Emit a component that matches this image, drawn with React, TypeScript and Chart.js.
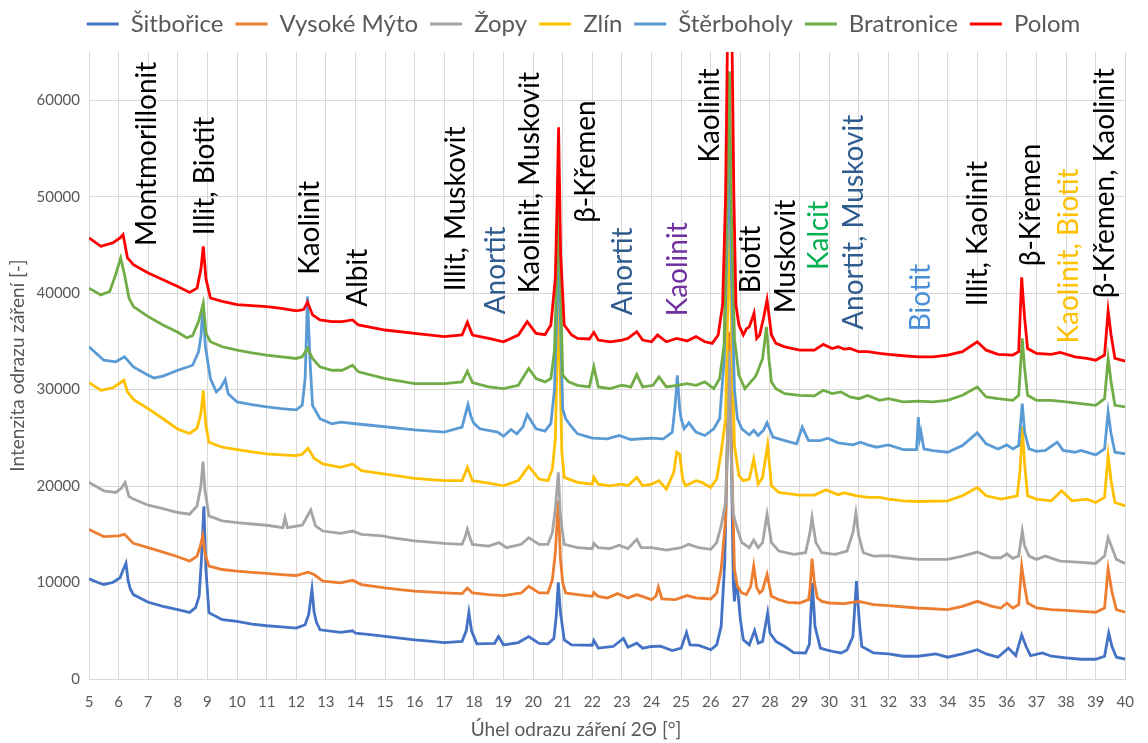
import React, { useEffect, useRef } from "react";
import { Chart, registerables } from "chart.js";

Chart.register(...registerables);

type Pt = [number, number];

// Diffraction patterns: [2θ (°), intensity]
const sitboriceData: Pt[] = [[5,10400],[5.3,10000],[5.5,9800],[5.8,10000],[6.05,10500],[6.15,11300],[6.25,12000],[6.32,10200],[6.4,9300],[6.5,8750],[7,7950],[7.5,7530],[8,7190],[8.4,6900],[8.6,7400],[8.72,8600],[8.8,12500],[8.88,17900],[8.95,11350],[9.05,6870],[9.5,6150],[10,5970],[10.5,5700],[11,5520],[11.5,5400],[12,5280],[12.3,5620],[12.42,6700],[12.53,9300],[12.6,7000],[12.68,5900],[12.8,5100],[13.5,4830],[13.9,5000],[14,4760],[14.5,4600],[15,4410],[15.5,4230],[16,4060],[16.5,3920],[17,3780],[17.6,3900],[17.74,5000],[17.83,6900],[17.92,5000],[18.1,3650],[18.7,3700],[18.83,4400],[19,3540],[19.5,3780],[19.85,4400],[20.2,3700],[20.5,3650],[20.7,4200],[20.78,6500],[20.85,10030],[20.92,7000],[21.05,4060],[21.3,3540],[22,3500],[22.05,4000],[22.2,3200],[22.7,3370],[23.05,4200],[23.2,3300],[23.5,3720],[23.7,3200],[24,3370],[24.3,3400],[24.7,2950],[25,3200],[25.18,4830],[25.3,3540],[25.6,3480],[26,3030],[26.2,3540],[26.35,5450],[26.47,12000],[26.56,24000],[26.63,33500],[26.7,22000],[26.76,10000],[26.8,8050],[26.85,9970],[26.9,9500],[27,6150],[27.1,4060],[27.3,3540],[27.48,5030],[27.6,3720],[27.75,3900],[27.92,6840],[28,4760],[28.2,3900],[28.5,3370],[28.8,2740],[29.2,2700],[29.33,3600],[29.43,9970],[29.52,5450],[29.7,3200],[29.9,3030],[30.2,2800],[30.4,2700],[30.6,3000],[30.8,4400],[30.92,10140],[31.02,5800],[31.1,3370],[31.3,3030],[31.5,2700],[32,2600],[32.5,2360],[33,2360],[33.6,2600],[34,2260],[34.5,2600],[35,3030],[35.3,2600],[35.7,2260],[36.05,3200],[36.3,2430],[36.5,4580],[36.65,3370],[36.8,2430],[37.2,2700],[37.5,2360],[38,2190],[38.5,2050],[39,2050],[39.3,2360],[39.44,4760],[39.55,3370],[39.7,2260],[40,2050]];

const vysokeMytoData: Pt[] = [[5,15500],[5.5,14760],[6,14830],[6.2,15000],[6.5,14060],[7,13610],[7.5,13160],[8,12670],[8.4,12220],[8.65,12740],[8.76,13800],[8.84,14830],[8.92,13000],[9.05,11700],[9.5,11350],[10,11180],[10.5,11050],[11,10940],[11.5,10830],[12,10730],[12.4,11070],[12.6,10830],[12.9,10140],[13.5,9970],[13.9,10250],[14.2,9790],[15,9440],[15.5,9270],[16,9100],[17,8920],[17.6,8850],[17.78,9440],[17.95,8920],[18.5,8750],[19,8650],[19.6,8920],[19.85,9620],[20.2,8920],[20.5,8920],[20.65,10300],[20.75,13090],[20.85,18500],[20.92,12500],[21,9970],[21.1,8920],[21.5,8750],[22,8570],[22.05,8960],[22.2,8570],[22.5,8400],[22.85,8850],[23.2,8400],[23.5,8750],[24,8230],[24.15,8600],[24.23,9550],[24.35,8300],[24.8,8230],[25.2,8650],[25.5,8400],[26,8300],[26.2,8920],[26.35,11350],[26.5,16560],[26.58,28000],[26.63,36000],[26.7,24000],[26.8,11350],[26.9,9620],[27.05,8920],[27.2,8750],[27.35,9600],[27.45,11700],[27.55,9500],[27.65,8920],[27.75,9200],[27.9,10830],[28.05,8570],[28.3,8230],[28.6,7950],[29,7880],[29.3,8230],[29.35,9300],[29.42,12470],[29.5,10000],[29.6,8400],[29.75,8050],[30,7880],[30.5,7820],[31,8050],[31.5,7710],[32,7600],[33,7360],[34,7190],[34.5,7530],[35,8050],[35.5,7530],[35.8,7360],[36,7880],[36.2,7360],[36.4,7710],[36.5,11700],[36.6,9620],[36.7,7880],[37,7360],[37.5,7190],[38,7120],[38.5,7020],[39,6920],[39.3,7360],[39.42,11420],[39.55,9020],[39.7,7190],[40,6920]];

const zopyData: Pt[] = [[5,20380],[5.5,19510],[5.9,19340],[6.1,19800],[6.22,20380],[6.35,18920],[6.5,18650],[7,18020],[7.5,17670],[8,17260],[8.4,17080],[8.65,17950],[8.78,20030],[8.85,22530],[8.92,19500],[9.05,16910],[9.5,16390],[10,16210],[10.5,16070],[11,15940],[11.55,15700],[11.62,16740],[11.7,15700],[12.2,15940],[12.35,16740],[12.49,17530],[12.65,15870],[12.9,15340],[13.5,15100],[13.9,15340],[14.2,15000],[14.9,14830],[15.2,14650],[16,14310],[17,14060],[17.6,13960],[17.7,14700],[17.78,15520],[17.88,14500],[17.95,13960],[18.5,13780],[18.85,14140],[19.1,13610],[19.6,13960],[19.85,14650],[20.2,13960],[20.5,13960],[20.65,15170],[20.75,17600],[20.85,21430],[20.92,17000],[20.98,15520],[21.05,13960],[21.5,13610],[22,13510],[22.05,14060],[22.2,13610],[22.6,13510],[22.9,13860],[23.2,13510],[23.5,14480],[23.65,13610],[24,13610],[24.5,13370],[25,13610],[25.25,13960],[25.6,13610],[26,13440],[26.2,14140],[26.35,15870],[26.5,18300],[26.57,26000],[26.63,34000],[26.68,24000],[26.75,17260],[26.9,15520],[27.05,14140],[27.3,13610],[27.45,14410],[27.6,13610],[27.75,14140],[27.9,17080],[28.05,14140],[28.3,13260],[28.8,12920],[29.2,13090],[29.35,15170],[29.42,16740],[29.55,14140],[29.75,13090],[30.2,12920],[30.6,13260],[30.8,15170],[30.9,17190],[31,14800],[31.15,13090],[31.5,12740],[32,12800],[32.5,12570],[33,12400],[34,12400],[34.5,12740],[35,13160],[35.5,12570],[35.8,12570],[36,12980],[36.2,12500],[36.4,12740],[36.52,15340],[36.6,13780],[36.75,12740],[37,12400],[37.3,12740],[37.8,12220],[38.5,12100],[39,11980],[39.3,12740],[39.42,14650],[39.55,13610],[39.7,12400],[40,11980]];

const zlinData: Pt[] = [[5,30730],[5.4,29930],[5.8,30170],[6.18,30970],[6.3,29760],[6.5,28990],[7,28020],[7.5,26980],[8,25900],[8.4,25450],[8.65,26000],[8.78,27500],[8.86,29900],[8.94,26500],[9.05,24550],[9.5,24030],[10,23780],[10.5,23540],[11,23330],[11.5,23240],[12,23160],[12.2,23300],[12.4,23920],[12.6,22880],[12.9,22290],[13.5,21950],[13.9,22290],[14.2,21600],[15,21250],[16,20800],[17,20560],[17.6,20560],[17.78,21950],[17.95,20560],[18.5,20310],[19,20030],[19.5,20560],[19.85,22050],[20.2,20730],[20.5,20560],[20.65,21770],[20.75,24900],[20.8,32000],[20.86,42000],[20.92,30000],[20.97,23510],[21.05,20900],[21.5,20380],[22,20200],[22.05,20900],[22.2,20200],[22.6,20030],[23,20200],[23.2,20030],[23.5,20900],[23.7,20030],[24,20200],[24.25,20560],[24.5,19690],[24.75,21430],[24.85,23510],[24.95,23300],[25.05,20730],[25.15,20030],[25.5,20560],[25.7,20380],[26,19860],[26.2,20730],[26.35,23510],[26.5,26980],[26.57,38000],[26.63,48000],[26.7,36000],[26.8,24200],[26.95,21080],[27.1,20560],[27.3,20730],[27.45,22810],[27.6,20200],[27.75,20900],[27.92,24270],[28.05,20030],[28.3,19340],[29,19060],[29.5,19060],[29.9,19610],[30.3,19100],[30.5,19300],[30.9,19000],[31.3,18820],[31.7,18820],[32,18650],[32.5,18470],[33,18400],[34,18470],[34.5,18990],[35,19860],[35.3,18990],[35.8,18650],[36.1,18820],[36.35,18990],[36.45,21770],[36.52,26200],[36.6,22290],[36.7,18990],[37,18650],[37.5,18470],[37.85,19510],[38.2,18470],[38.7,18650],[39,18300],[39.3,18820],[39.42,23160],[39.52,20560],[39.65,18300],[40,17950]];

const sterboholyData: Pt[] = [[5,34440],[5.5,33050],[5.9,32880],[6.2,33400],[6.5,32360],[7,31490],[7.2,31210],[7.5,31400],[8,32010],[8.5,32530],[8.7,33920],[8.78,35500],[8.85,38610],[8.93,34500],[9.1,31150],[9.3,29760],[9.45,30200],[9.6,31040],[9.7,29580],[10,28720],[10.5,28440],[11,28200],[11.5,28020],[12,27900],[12.2,28370],[12.3,31150],[12.38,39650],[12.46,33230],[12.55,28370],[12.8,26980],[13.2,26460],[13.5,26630],[14,26460],[15,26150],[16,25830],[17,25590],[17.6,26110],[17.7,27300],[17.8,28440],[17.9,27200],[18,26500],[18.2,25940],[18.8,25590],[19,25170],[19.25,25870],[19.45,25420],[19.65,26110],[19.8,27400],[20.1,25940],[20.4,25700],[20.6,26500],[20.72,30000],[20.8,38000],[20.86,46000],[20.93,36000],[21,28000],[21.1,26980],[21.26,26280],[21.5,25420],[22,24970],[22.5,24900],[22.9,25240],[23.3,24830],[24,24970],[24.4,24900],[24.7,25590],[24.8,28500],[24.87,31490],[24.95,28000],[25,26980],[25.1,25940],[25.26,26560],[25.5,25590],[25.8,25240],[26.1,25940],[26.3,26980],[26.45,33000],[26.55,45000],[26.62,55000],[26.7,42000],[26.8,30000],[26.9,27000],[27.05,25940],[27.3,25300],[27.45,25770],[27.6,25240],[27.78,25800],[27.9,26560],[28.1,25070],[28.5,24720],[28.9,24380],[29.09,26110],[29.3,24720],[29.7,24720],[29.95,24970],[30.3,24480],[30.8,24270],[31.05,24550],[31.3,24270],[31.6,24030],[32,24270],[32.5,23780],[32.95,23780],[33.01,27150],[33.06,25000],[33.1,25590],[33.2,23850],[33.5,23680],[34,23510],[34.5,24200],[35,25520],[35.3,24380],[35.7,23850],[36,24270],[36.2,23850],[36.4,24200],[36.52,28540],[36.6,25590],[36.75,23850],[37,23600],[37.3,23700],[37.7,24550],[37.9,23700],[38.3,23510],[38.5,23700],[39,23230],[39.3,23850],[39.42,27670],[39.52,25420],[39.65,23510],[40,23330]];

const bratroniceData: Pt[] = [[5,40520],[5.4,39820],[5.7,40170],[5.9,41910],[6.07,43650],[6.2,41910],[6.35,39500],[6.5,38610],[7,37570],[7.5,36700],[8,35940],[8.3,35380],[8.5,35600],[8.7,37050],[8.86,38960],[8.95,35830],[9.1,34960],[9.5,34440],[10,34090],[10.5,33820],[11,33580],[11.5,33400],[12,33230],[12.2,33400],[12.38,34270],[12.55,33230],[12.8,32360],[13.2,32010],[13.55,32010],[13.9,32530],[14.1,31840],[15,31150],[16,30630],[17,30630],[17.6,30800],[17.78,31910],[17.95,30730],[18.5,30280],[19,30100],[19.5,30450],[19.85,32190],[20.1,31150],[20.4,30800],[20.6,31150],[20.72,34000],[20.8,42000],[20.86,52000],[20.93,40000],[21,31490],[21.2,30800],[21.5,30450],[21.9,30280],[22.05,32360],[22.2,30280],[22.6,30100],[23,30450],[23.3,30280],[23.5,31560],[23.7,30280],[24.05,30450],[24.25,31320],[24.5,30280],[24.85,30450],[25.2,30620],[25.5,30450],[25.8,30800],[26.1,30100],[26.3,31150],[26.45,34620],[26.55,50000],[26.63,63000],[26.7,48000],[26.8,35310],[26.95,31490],[27.15,30100],[27.35,30800],[27.5,31320],[27.6,32010],[27.75,33230],[27.88,36500],[27.97,33000],[28.05,30800],[28.2,30100],[28.5,29580],[29,29410],[29.5,29350],[29.8,29930],[30.1,29580],[30.4,29760],[30.7,29240],[31,29060],[31.3,29400],[31.7,28890],[32,29060],[32.5,28720],[33,28800],[33.5,28720],[34,28890],[34.5,29410],[35,30280],[35.3,29240],[35.7,29060],[36.2,28890],[36.4,29410],[36.52,35310],[36.6,32190],[36.7,29410],[37,28890],[37.5,28890],[38,28720],[38.5,28540],[39,28370],[39.3,29060],[39.42,33230],[39.52,30800],[39.65,28370],[40,28200]];

const polomData: Pt[] = [[5,45730],[5.4,44860],[5.8,45210],[6.05,45730],[6.15,46080],[6.3,43650],[6.5,42960],[7,42090],[7.5,41390],[8,40700],[8.4,40080],[8.65,40520],[8.78,42500],[8.86,44860],[8.95,41500],[9.1,39500],[9.5,39150],[10,38800],[10.5,38700],[11,38610],[11.5,38430],[12,38160],[12.25,38300],[12.38,39060],[12.55,37740],[12.8,37220],[13.2,37050],[13.55,37050],[13.9,37220],[14.1,36700],[15,36180],[16,35830],[17,35490],[17.6,35660],[17.78,36980],[17.95,35660],[18.5,35310],[19,34960],[19.5,35660],[19.8,37050],[20.1,35830],[20.4,35700],[20.6,36700],[20.75,41560],[20.8,48000],[20.86,57200],[20.93,44000],[20.98,41000],[21.05,36700],[21.3,35660],[21.5,35310],[21.9,35250],[22.05,35940],[22.2,35140],[22.6,34960],[23,35140],[23.2,35310],[23.5,36010],[23.7,35140],[24,34960],[24.2,35660],[24.5,34960],[24.85,35310],[25.2,35050],[25.5,35490],[25.8,34960],[26.05,34790],[26.25,35660],[26.4,38780],[26.5,50000],[26.64,86000],[26.78,50000],[26.85,38780],[26.95,36700],[27.1,35660],[27.2,36300],[27.3,36500],[27.46,37920],[27.55,35310],[27.65,35660],[27.78,37400],[27.9,39300],[28.05,35660],[28.2,34790],[28.5,34440],[29,34090],[29.5,34090],[29.8,34690],[30.1,34260],[30.3,34440],[30.5,34200],[30.7,34260],[31,33930],[31.3,33930],[31.7,33750],[32,33650],[32.5,33510],[33,33400],[33.5,33400],[34,33580],[34.5,33930],[35,34960],[35.3,34090],[35.7,33650],[36.2,33580],[36.4,33930],[36.5,41640],[36.6,37400],[36.7,34260],[37,33750],[37.5,33650],[37.8,33860],[38.3,33400],[38.7,33230],[39,33050],[39.3,33580],[39.42,38160],[39.52,35660],[39.65,33230],[40,32950]];

const seriesNames = ["Šitbořice", "Vysoké Mýto", "Žopy", "Zlín", "Štěrboholy", "Bratronice", "Polom"];
const seriesColors = ["#4472C4", "#ED7D31", "#A5A5A5", "#FFC000", "#5B9BD5", "#70AD47", "#FF0000"];
const seriesData = [sitboriceData, vysokeMytoData, zopyData, zlinData, sterboholyData, bratroniceData, polomData];

const yTicks = [0, 10000, 20000, 30000, 40000, 50000, 60000];

// Mineral identifications: text, 2θ position, intensity at the start of the text, colour
const labelTexts = ["Montmorillonit", "Illit, Biotit", "Kaolinit", "Albit", "Illit, Muskovit", "Anortit", "Kaolinit, Muskovit", "β-Křemen", "Anortit", "Kaolinit", "Kaolinit", "Biotit", "Muskovit", "Kalcit", "Anortit, Muskovit", "Biotit", "Illit, Kaolinit", "β-Křemen", "Kaolinit, Biotit", "β-Křemen, Kaolinit"];
const labelAngles = [6.95, 8.92, 12.45, 14.1, 17.4, 18.75, 19.9, 21.8, 23.05, 24.9, 25.97, 27.37, 28.53, 29.65, 30.85, 33.1, 35.03, 36.8, 38.1, 39.33];
const labelBases = [44900, 46000, 41900, 38600, 40210, 37810, 40000, 47290, 37710, 37600, 53540, 40000, 37920, 42400, 36200, 36040, 38650, 42800, 34790, 39480];
const labelColors = ["#000000", "#000000", "#000000", "#000000", "#000000", "#2F5C8F", "#000000", "#000000", "#2F5C8F", "#7030A0", "#000000", "#000000", "#000000", "#00B050", "#2F5C8F", "#4A8FD6", "#000000", "#000000", "#FFC000", "#000000"];

const xTitle = "Úhel odrazu záření 2Θ [°]";
const yTitle = "Intenzita odrazu záření [-]";

const FONT = "Lato, 'Open Sans', sans-serif";
const AXIS_GREY = "#595959";

// Rotated mineral names above the peaks
const peakLabels = {
  id: "peakLabels",
  afterDatasetsDraw(chart: any) {
    const { ctx, scales } = chart;
    const xs = scales.x;
    const ys = scales.y;
    ctx.save();
    ctx.font = `28px ${FONT}`;
    ctx.textAlign = "left";
    ctx.textBaseline = "middle";
    labelTexts.forEach((text, i) => {
      const px = xs.getPixelForValue(labelAngles[i]);
      const py = ys.getPixelForValue(labelBases[i]);
      ctx.save();
      ctx.translate(px, py);
      ctx.rotate(-Math.PI / 2);
      ctx.fillStyle = labelColors[i];
      ctx.fillText(text, 0, 0);
      ctx.restore();
    });
    ctx.restore();
  },
};

// Axis titles, placed relative to the plot area
const axisTitles = {
  id: "axisTitles",
  afterDraw(chart: any) {
    const { ctx, chartArea } = chart;
    ctx.save();
    ctx.fillStyle = AXIS_GREY;
    ctx.textAlign = "center";
    ctx.textBaseline = "middle";
    ctx.font = `19px ${FONT}`;
    ctx.fillText(xTitle, chartArea.left + (chartArea.right - chartArea.left) * 0.47, chartArea.bottom + 51);
    ctx.translate(18, (chartArea.top + chartArea.bottom) / 2);
    ctx.rotate(-Math.PI / 2);
    ctx.fillText(yTitle, 0, 0);
    ctx.restore();
  },
};

// Moves the legend row up and to the right after layout
const legendNudge = {
  id: "legendNudge",
  afterLayout(chart: any) {
    const lg = chart.legend;
    if (!lg) return;
    lg.left += 14;
    lg.right += 14;
    lg.top -= 6;
    lg.bottom -= 6;
  },
};

export default function App() {
  const canvasRef = useRef<HTMLCanvasElement | null>(null);

  useEffect(() => {
    if (!canvasRef.current) return;
    const chart = new Chart(canvasRef.current, {
      type: "line",
      data: {
        datasets: seriesNames.map((name, i) => ({
          label: name,
          data: seriesData[i] as any,
          borderColor: seriesColors[i],
          backgroundColor: seriesColors[i],
          borderWidth: 2.8,
          pointRadius: 0,
          tension: 0,
          order: seriesNames.length - i,
        })),
      },
      options: {
        responsive: false,
        animation: false,
        devicePixelRatio: 1,
        layout: { padding: { left: 0, right: 9, top: 6, bottom: 0 } },
        plugins: {
          legend: {
            position: "top",
            labels: {
              font: { family: FONT, size: 24 },
              color: AXIS_GREY,
              boxWidth: 32,
              boxHeight: 3,
              padding: 12,
              sort: (a: any, b: any) => a.datasetIndex - b.datasetIndex,
              generateLabels: (chart: any) =>
                Chart.defaults.plugins.legend.labels
                  .generateLabels(chart)
                  .map((l: any) => ({ ...l, lineWidth: 0, fillStyle: seriesColors[l.datasetIndex] })),
            },
          },
          tooltip: { enabled: false },
        },
        scales: {
          x: {
            type: "linear",
            min: 5,
            max: 40,
            ticks: { stepSize: 1, color: AXIS_GREY, font: { family: FONT, size: 15 }, padding: 14, maxRotation: 0 },
            grid: { color: "#d9d9d9", drawTicks: false },
            border: { color: "#d9d9d9" },
            afterFit: (s: any) => { s.height = 64; },
          },
          y: {
            type: "linear",
            min: 0,
            max: 65000,
            ticks: { color: AXIS_GREY, font: { family: FONT, size: 15 }, padding: 9, callback: (v: any) => String(v) },
            afterBuildTicks: (s: any) => { s.ticks = yTicks.map((v) => ({ value: v })); },
            grid: { color: "#d9d9d9", drawTicks: false },
            border: { display: false },
            afterFit: (s: any) => { s.width = 89; },
          },
        },
      },
      plugins: [peakLabels, axisTitles, legendNudge],
    });
    return () => chart.destroy();
  }, []);

  return (
    <div style={{ position: "absolute", left: 0, top: 0, width: 1148, height: 743, background: "#fff" }}>
      <canvas ref={canvasRef} width={1148} height={743} />
    </div>
  );
}
